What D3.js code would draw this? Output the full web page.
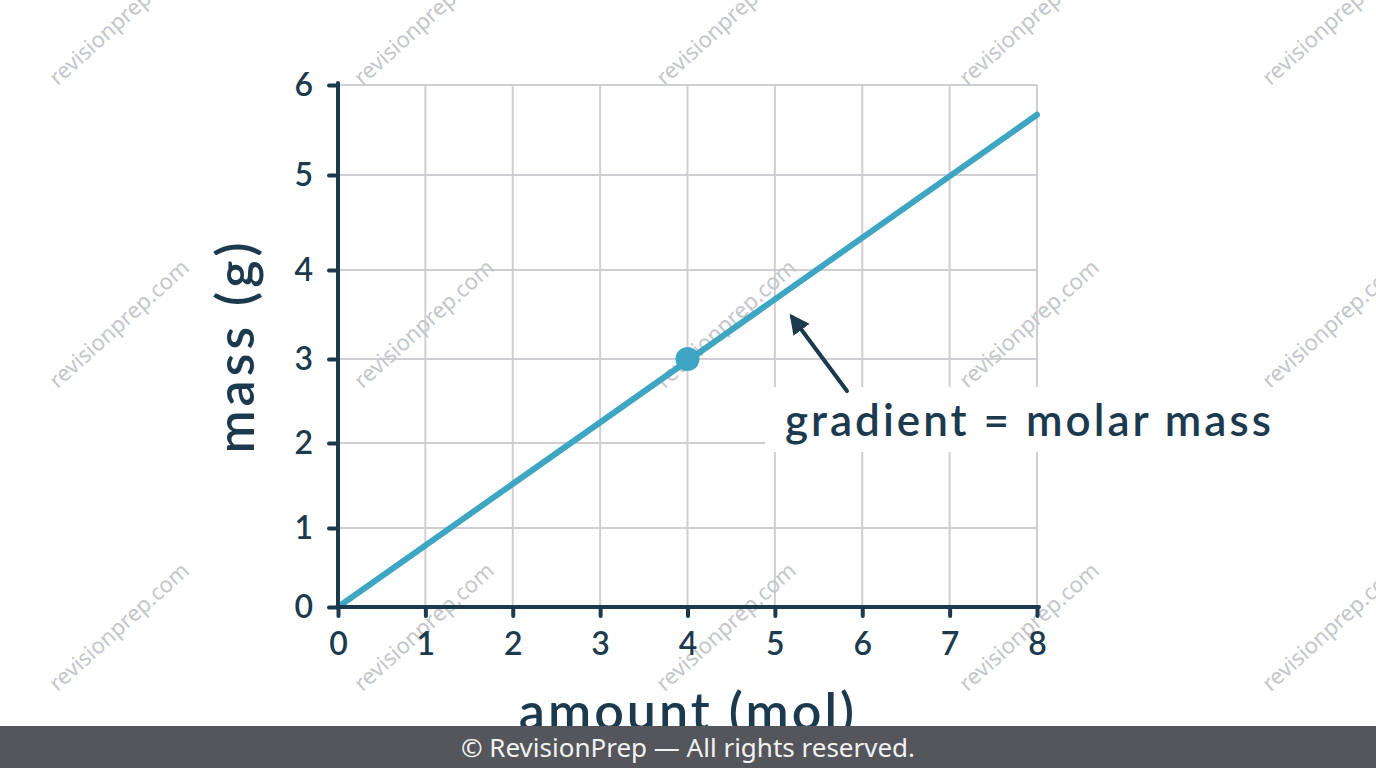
<!DOCTYPE html>
<html>
<head>
<meta charset="utf-8">
<script src="https://cdn.jsdelivr.net/npm/d3@7"></script>
<style>
  body { margin: 0; background: #fff; }
  svg { display: block; }
</style>
</head>
<body>
<div id="chart"></div>
<script>
// data
var xTicks = [0, 1, 2, 3, 4, 5, 6, 7, 8];
var yTicks = [0, 1, 2, 3, 4, 5, 6];
var lineAmount = [0, 8];
var lineMass = [0, 5.67];
var pointAmount = [4];
var pointMass = [3];
var xLabel = 'amount (mol)';
var yLabel = 'mass (g)';
var note = 'gradient = molar mass';
var footer = '\u00a9 RevisionPrep \u2014 All rights reserved.';
var watermark = 'revisionprep.com';

var svgWidth = 1376;
var svgHeight = 768;

var navy = '#1c3a4e';
var teal = '#3ea5c3';
var gridColor = '#cfcfd3';
var font = 'Lato, "Noto Sans", sans-serif';

// the grid in the picture is slightly uneven, so the y scale is piecewise
var yPixels = [607, 528, 443, 359, 270, 175, 85];

var xScale = d3.scaleLinear().domain([0, 8]).range([338, 1037]);
var yScale = d3.scaleLinear().domain(yTicks).range(yPixels);

var svg = d3.select('#chart').append('svg')
    .attr('width', svgWidth)
    .attr('height', svgHeight);

// gridlines
var grid = svg.append('g');
grid.selectAll('.vg')
    .data(xTicks.filter(d => d > 0))
    .enter()
    .append('line')
    .attr('x1', d => xScale(d))
    .attr('x2', d => xScale(d))
    .attr('y1', yScale(0))
    .attr('y2', yScale(6))
    .attr('stroke', gridColor)
    .attr('stroke-width', 2);
grid.selectAll('.hg')
    .data(yTicks.filter(d => d > 0))
    .enter()
    .append('line')
    .attr('x1', xScale(0))
    .attr('x2', xScale(8))
    .attr('y1', d => yScale(d))
    .attr('y2', d => yScale(d))
    .attr('stroke', gridColor)
    .attr('stroke-width', 2);

// watermarks
var wmCols = [120, 425, 727, 1030, 1333];
var wmRows = [22, 325, 628];
var wm = svg.append('g');
wmRows.forEach(function(r) {
    wmCols.forEach(function(c) {
        wm.append('text')
            .attr('transform', `translate(${c}, ${r}) rotate(-42)`)
            .attr('text-anchor', 'middle')
            .attr('dominant-baseline', 'middle')
            .attr('fill', '#c4c6cb')
            .style('font-family', '"Noto Sans", sans-serif')
            .style('font-size', '22px')
            .text(watermark);
    });
});

// data line and point
var lineData = lineAmount.map((d, i) => [d, lineMass[i]]);
svg.append('path')
    .datum(lineData)
    .attr('d', d3.line().x(d => xScale(d[0])).y(d => yScale(d[1])))
    .attr('fill', 'none')
    .attr('stroke', teal)
    .attr('stroke-width', 6)
    .attr('stroke-linecap', 'round');

svg.selectAll('.pt')
    .data(pointAmount.map((d, i) => [d, pointMass[i]]))
    .enter()
    .append('circle')
    .attr('cx', d => xScale(d[0]))
    .attr('cy', d => yScale(d[1]))
    .attr('r', 12)
    .attr('fill', teal);

// axes
var xAxis = d3.axisBottom(xScale).tickValues(xTicks).tickSize(9).tickPadding(16)
    .tickFormat(d3.format('d'));
var yAxis = d3.axisLeft(yScale).tickValues(yTicks).tickSize(9).tickPadding(16)
    .tickFormat(d3.format('d'));

var gx = svg.append('g')
    .attr('transform', `translate(0, ${yScale(0)})`)
    .call(xAxis);
var gy = svg.append('g')
    .attr('transform', `translate(${xScale(0)}, 0)`)
    .call(yAxis);

[gx, gy].forEach(function(g) {
    g.select('.domain').remove();
    g.selectAll('.tick line')
        .attr('stroke', navy)
        .attr('stroke-width', 4)
        .attr('stroke-linecap', 'round');
    g.selectAll('.tick text')
        .attr('fill', navy)
        .style('font-family', font)
        .style('font-size', '32px')
        .style('font-weight', 600);
});

svg.append('line')
    .attr('x1', xScale(0)).attr('x2', xScale(8) + 2)
    .attr('y1', yScale(0)).attr('y2', yScale(0))
    .attr('stroke', navy).attr('stroke-width', 4).attr('stroke-linecap', 'round');
svg.append('line')
    .attr('x1', xScale(0)).attr('x2', xScale(0))
    .attr('y1', yScale(0)).attr('y2', yScale(6) - 2)
    .attr('stroke', navy).attr('stroke-width', 4).attr('stroke-linecap', 'round');

// axis titles
svg.append('text')
    .attr('x', 688)
    .attr('y', 730)
    .attr('text-anchor', 'middle')
    .attr('fill', navy)
    .style('font-family', font)
    .style('font-size', '52px')
    .style('font-weight', 600)
    .style('letter-spacing', '3px')
    .text(xLabel);

svg.append('text')
    .attr('transform', 'translate(254, 346) rotate(-90)')
    .attr('text-anchor', 'middle')
    .attr('fill', navy)
    .style('font-family', font)
    .style('font-size', '52px')
    .style('font-weight', 600)
    .style('letter-spacing', '4px')
    .text(yLabel);

// annotation
svg.append('rect')
    .attr('x', 765).attr('y', 387)
    .attr('width', 520).attr('height', 65)
    .attr('fill', '#fff');

svg.append('text')
    .attr('x', 785)
    .attr('y', 436)
    .attr('fill', navy)
    .style('font-family', font)
    .style('font-size', '44px')
    .style('font-weight', 600)
    .style('letter-spacing', '3px')
    .text(note);

svg.append('defs').append('marker')
    .attr('id', 'head')
    .attr('viewBox', '0 0 10 10')
    .attr('refX', 8).attr('refY', 5)
    .attr('markerWidth', 5).attr('markerHeight', 5)
    .attr('markerUnits', 'strokeWidth')
    .attr('orient', 'auto')
    .append('path')
    .attr('d', 'M0,0 L10,5 L0,10 Z')
    .attr('fill', navy);

svg.append('line')
    .attr('x1', 847).attr('y1', 391)
    .attr('x2', 792).attr('y2', 317)
    .attr('stroke', navy)
    .attr('stroke-width', 4)
    .attr('stroke-linecap', 'round')
    .attr('marker-end', 'url(#head)');

// footer
svg.append('rect')
    .attr('x', 0).attr('y', 726)
    .attr('width', svgWidth).attr('height', 42)
    .attr('fill', '#55565b');
svg.append('text')
    .attr('x', 688)
    .attr('y', 757)
    .attr('text-anchor', 'middle')
    .attr('fill', '#f2f2f2')
    .style('font-family', '"Noto Sans", sans-serif')
    .style('font-size', '26px')
    .text(footer);
</script>
</body>
</html>
